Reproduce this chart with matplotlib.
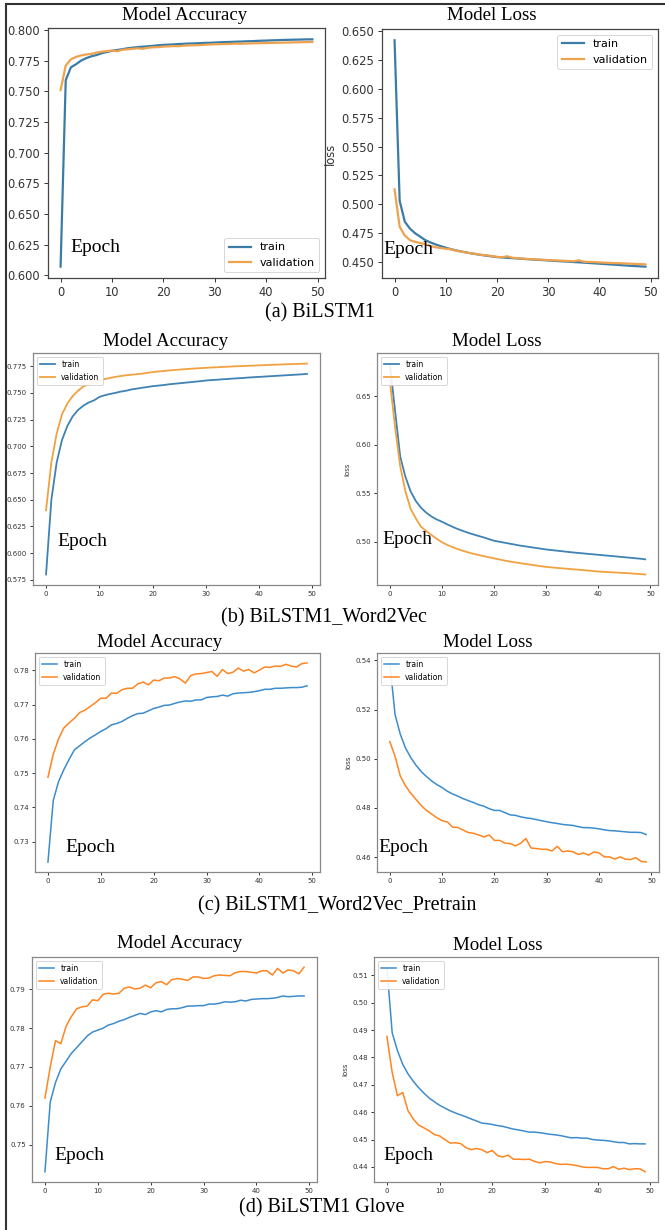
import matplotlib
matplotlib.use("Agg")
import matplotlib.pyplot as plt
from matplotlib.ticker import MultipleLocator, ScalarFormatter
from matplotlib.lines import Line2D
import numpy as np

W, H = 665, 1230
SERIF = ["Liberation Serif", "DejaVu Serif"]

epochs = list(range(50))

# (a) BiLSTM1
acc_a_train = [0.607, 0.759, 0.7695, 0.772, 0.775, 0.777, 0.7785, 0.7795, 0.781, 0.782,
               0.783, 0.7836, 0.7843, 0.785, 0.7855, 0.786, 0.7863, 0.7867, 0.787, 0.7875,
               0.7878, 0.788, 0.7882, 0.7885, 0.7887, 0.7889, 0.789, 0.7892, 0.7894, 0.7895,
               0.7897, 0.7899, 0.7901, 0.7902, 0.7904, 0.7905, 0.7907, 0.7908, 0.791, 0.7912,
               0.7913, 0.7915, 0.7916, 0.7918, 0.7919, 0.792, 0.7921, 0.7922, 0.7923, 0.7923]
acc_a_val = [0.751, 0.771, 0.776, 0.778, 0.7792, 0.780, 0.7805, 0.7815, 0.7822, 0.7827,
             0.7832, 0.7826, 0.7838, 0.7842, 0.7846, 0.785, 0.7846, 0.7855, 0.7858, 0.786,
             0.7864, 0.7866, 0.7868, 0.7867, 0.7872, 0.7874, 0.7875, 0.7876, 0.7879, 0.7881,
             0.7883, 0.7884, 0.7885, 0.7886, 0.7888, 0.7887, 0.7889, 0.789, 0.7891, 0.7892,
             0.7893, 0.7894, 0.7895, 0.7896, 0.7897, 0.7898, 0.7899, 0.79, 0.7901, 0.7902]
loss_a_train = [0.642, 0.503, 0.485, 0.479, 0.475, 0.472, 0.469, 0.467, 0.4653, 0.4638,
                0.4624, 0.4612, 0.4601, 0.4592, 0.4583, 0.4575, 0.4568, 0.4561, 0.4555, 0.4549,
                0.4543, 0.454, 0.4537, 0.4534, 0.4531, 0.4528, 0.4525, 0.4522, 0.452, 0.4517,
                0.4514, 0.4511, 0.4508, 0.4506, 0.4503, 0.45, 0.4498, 0.4495, 0.4492, 0.4489,
                0.4486, 0.4483, 0.448, 0.4477, 0.4474, 0.4471, 0.4468, 0.4465, 0.4463, 0.446]
loss_a_val = [0.513, 0.4805, 0.473, 0.469, 0.4675, 0.4665, 0.4655, 0.464, 0.4628, 0.4622,
              0.4615, 0.461, 0.4598, 0.459, 0.4582, 0.4576, 0.457, 0.4562, 0.4558, 0.4552,
              0.4545, 0.4542, 0.455, 0.4538, 0.4533, 0.453, 0.4527, 0.4525, 0.4522, 0.452,
              0.4517, 0.4515, 0.4513, 0.4511, 0.4509, 0.4507, 0.4515, 0.4503, 0.4501, 0.45,
              0.4497, 0.4495, 0.4493, 0.4491, 0.449, 0.4488, 0.4486, 0.4484, 0.4482, 0.448]

# (b) BiLSTM1_Word2Vec
acc_b_train = [0.580, 0.650, 0.685, 0.706, 0.719, 0.728, 0.734, 0.738, 0.741, 0.743,
               0.7462, 0.7478, 0.749, 0.750, 0.7512, 0.752, 0.7532, 0.754, 0.7548, 0.7555,
               0.7563, 0.7568, 0.7573, 0.758, 0.7585, 0.759, 0.7595, 0.760, 0.7605, 0.761,
               0.7616, 0.762, 0.7623, 0.7627, 0.763, 0.7634, 0.7637, 0.764, 0.7644, 0.7647,
               0.765, 0.7653, 0.7656, 0.7659, 0.7662, 0.7665, 0.7668, 0.7671, 0.7674, 0.7678]
acc_b_val = [0.640, 0.685, 0.712, 0.730, 0.740, 0.747, 0.752, 0.756, 0.758, 0.760,
             0.7615, 0.763, 0.764, 0.765, 0.7658, 0.7665, 0.767, 0.7675, 0.768, 0.7688,
             0.7695, 0.770, 0.7705, 0.771, 0.7714, 0.7718, 0.7722, 0.7726, 0.7729, 0.7732,
             0.7735, 0.7738, 0.774, 0.7743, 0.7745, 0.7748, 0.775, 0.7752, 0.7754, 0.7756,
             0.7758, 0.776, 0.7762, 0.7764, 0.7766, 0.7768, 0.777, 0.7771, 0.7773, 0.7775]
loss_b_train = [0.684, 0.636, 0.588, 0.567, 0.552, 0.542, 0.535, 0.530, 0.526, 0.523,
                0.5207, 0.518, 0.5155, 0.5132, 0.5112, 0.5093, 0.5076, 0.506, 0.5045, 0.5027,
                0.501, 0.500, 0.499, 0.498, 0.497, 0.496, 0.4952, 0.4944, 0.4936, 0.4928,
                0.492, 0.4914, 0.4908, 0.4902, 0.4896, 0.489, 0.4885, 0.488, 0.4875, 0.487,
                0.4865, 0.486, 0.4855, 0.485, 0.4845, 0.484, 0.4835, 0.483, 0.4825, 0.4818]
loss_b_val = [0.667, 0.619, 0.578, 0.552, 0.534, 0.524, 0.5155, 0.511, 0.507, 0.503,
              0.4995, 0.4968, 0.4945, 0.4925, 0.4907, 0.489, 0.4876, 0.4863, 0.4851, 0.484,
              0.4828, 0.4817, 0.4806, 0.4796, 0.4787, 0.4779, 0.4771, 0.4763, 0.4755, 0.4747,
              0.474, 0.4735, 0.473, 0.4725, 0.4721, 0.4716, 0.4712, 0.4707, 0.4703, 0.4697,
              0.4692, 0.4689, 0.4686, 0.4683, 0.468, 0.4677, 0.4674, 0.467, 0.4666, 0.4662]

# (c) BiLSTM1_Word2Vec_Pretrain
acc_c_train = [0.724, 0.742, 0.7475, 0.751, 0.754, 0.7568, 0.758, 0.7592, 0.7603, 0.7612,
               0.7622, 0.763, 0.7641, 0.7645, 0.7651, 0.766, 0.7668, 0.7674, 0.7675, 0.7682,
               0.7689, 0.7693, 0.7698, 0.7699, 0.7704, 0.7708, 0.7711, 0.771, 0.7714, 0.7714,
               0.7721, 0.7723, 0.7724, 0.7728, 0.7725, 0.7732, 0.7734, 0.7735, 0.7736, 0.7738,
               0.7741, 0.7745, 0.7745, 0.7748, 0.7748, 0.7749, 0.775, 0.775, 0.7751, 0.7755]
acc_c_val = [0.7488, 0.7555, 0.760, 0.7632, 0.7647, 0.766, 0.7677, 0.7684, 0.7695, 0.7706,
             0.7719, 0.7719, 0.7734, 0.7733, 0.7744, 0.7748, 0.7748, 0.7761, 0.7766, 0.7758,
             0.7772, 0.777, 0.7778, 0.7778, 0.7782, 0.7775, 0.7763, 0.7785, 0.779, 0.7791,
             0.7794, 0.7797, 0.7783, 0.7803, 0.7791, 0.7795, 0.7807, 0.7798, 0.7803, 0.7793,
             0.7801, 0.781, 0.7809, 0.7813, 0.7812, 0.7818, 0.7813, 0.781, 0.782, 0.7822]
loss_c_train = [0.539, 0.518, 0.510, 0.5044, 0.5005, 0.4974, 0.4948, 0.4928, 0.491, 0.4895,
                0.4883, 0.4868, 0.4857, 0.4848, 0.4838, 0.483, 0.4822, 0.4813, 0.4807, 0.4797,
                0.479, 0.479, 0.4781, 0.4772, 0.477, 0.4764, 0.476, 0.4757, 0.4753, 0.4748,
                0.4744, 0.474, 0.4737, 0.4733, 0.4731, 0.4729, 0.4724, 0.472, 0.472, 0.4718,
                0.4715, 0.4711, 0.4708, 0.4707, 0.4705, 0.4703, 0.4701, 0.4701, 0.47, 0.4692]
loss_c_val = [0.507, 0.501, 0.493, 0.489, 0.486, 0.4835, 0.481, 0.479, 0.4775, 0.476,
              0.4748, 0.4743, 0.4722, 0.4721, 0.471, 0.470, 0.4697, 0.469, 0.4682, 0.469,
              0.4668, 0.4668, 0.4657, 0.4655, 0.4646, 0.4656, 0.4676, 0.4637, 0.4635, 0.4632,
              0.4632, 0.4625, 0.4644, 0.4622, 0.4625, 0.4622, 0.4611, 0.4617, 0.4608, 0.4621,
              0.4617, 0.4601, 0.4601, 0.4592, 0.4601, 0.4592, 0.459, 0.4598, 0.4583, 0.458]

# (d) BiLSTM1 Glove
acc_d_train = [0.743, 0.761, 0.766, 0.7695, 0.7715, 0.7735, 0.775, 0.7765, 0.778, 0.779,
               0.7795, 0.780, 0.7808, 0.7812, 0.7818, 0.7822, 0.7828, 0.7833, 0.7838, 0.7835,
               0.7842, 0.7845, 0.7842, 0.7848, 0.785, 0.785, 0.7853, 0.7857, 0.7857, 0.7858,
               0.7858, 0.7862, 0.7862, 0.7864, 0.7868, 0.7867, 0.7868, 0.7872, 0.787, 0.7874,
               0.7875, 0.7876, 0.7876, 0.7877, 0.7879, 0.7883, 0.7881, 0.7882, 0.7883, 0.7883]
acc_d_val = [0.762, 0.770, 0.7768, 0.776, 0.7805, 0.783, 0.785, 0.7855, 0.7857, 0.7873,
             0.7871, 0.7887, 0.789, 0.7888, 0.789, 0.7903, 0.7906, 0.7901, 0.7903, 0.7911,
             0.7904, 0.7917, 0.792, 0.7912, 0.7925, 0.7928, 0.7926, 0.7923, 0.7932, 0.7932,
             0.7928, 0.7929, 0.7935, 0.7937, 0.7936, 0.7935, 0.7943, 0.7946, 0.7946, 0.7944,
             0.7942, 0.7948, 0.7948, 0.7937, 0.7954, 0.7942, 0.795, 0.7948, 0.794, 0.7957]
loss_d_train = [0.513, 0.489, 0.4825, 0.4775, 0.474, 0.4713, 0.469, 0.467, 0.4652, 0.4638,
                0.4625, 0.4615, 0.4605, 0.4597, 0.459, 0.4583, 0.4575, 0.4568, 0.456, 0.4558,
                0.4555, 0.4551, 0.4548, 0.4543, 0.4538, 0.4535, 0.4531, 0.4527, 0.4527, 0.4525,
                0.4522, 0.4519, 0.4517, 0.4514, 0.451, 0.4506, 0.4507, 0.4505, 0.4505, 0.45,
                0.4498, 0.4497, 0.4495, 0.4492, 0.4489, 0.4489, 0.4484, 0.4485, 0.4484, 0.4484]
loss_d_val = [0.4877, 0.4745, 0.466, 0.4672, 0.4605, 0.4575, 0.4553, 0.4543, 0.4532, 0.4518,
              0.4513, 0.450, 0.4487, 0.4488, 0.4485, 0.447, 0.4463, 0.4467, 0.4463, 0.4452,
              0.446, 0.4441, 0.4436, 0.4443, 0.4428, 0.4428, 0.4427, 0.4428, 0.442, 0.4415,
              0.4419, 0.4418, 0.4412, 0.4409, 0.441, 0.4408, 0.4405, 0.44, 0.4398, 0.4398,
              0.4398, 0.4393, 0.4393, 0.4401, 0.4391, 0.4395, 0.439, 0.4393, 0.4393, 0.4382]

captions = ["(a) BiLSTM1", "(b) BiLSTM1_Word2Vec",
            "(c) BiLSTM1_Word2Vec_Pretrain", "(d) BiLSTM1 Glove"]


def fx(x):
    return x / W


def fy(y):
    return 1 - y / H


def rect(l, r, t, b):
    return [fx(l), fy(b), (r - l) / W, (b - t) / H]


def draw(ax, train, val, step, style, loc, ylabel=None):
    ax.plot(epochs, train, color=style["c1"], lw=style["lw"], label="train")
    ax.plot(epochs, val, color=style["c2"], lw=style["lw"], label="validation")
    ax.set_xticks([0, 10, 20, 30, 40, 50])
    ax.yaxis.set_major_locator(MultipleLocator(step))
    fmt = ScalarFormatter(useOffset=False)
    ax.yaxis.set_major_formatter(fmt)
    ax.tick_params(labelsize=style["fs"], colors="#333333", length=style["tl"],
                   width=0.7, pad=2.5)
    for s in ax.spines.values():
        s.set_color(style["spine"])
        s.set_linewidth(0.9)
    if ylabel:
        ax.set_ylabel(ylabel, fontsize=style["fs"], color="#333333", labelpad=3)
    leg = ax.legend(loc=loc, fontsize=style["lfs"], framealpha=0.9)
    leg.get_frame().set_linewidth(0.6)


fig = plt.figure(figsize=(W / 100, H / 100), dpi=100, facecolor="white")

style_a = dict(c1="#3a7ca5", c2="#eea24e", lw=1.6, fs=8.3, lfs=8.0, tl=3.0,
               spine="#444444")
style_b = dict(c1="#3f82b4", c2="#f0a240", lw=1.3, fs=5.0, lfs=5.5, tl=2.0,
               spine="#888888")
style_c = dict(c1="#3d8ccc", c2="#ff8520", lw=1.1, fs=5.0, lfs=5.5, tl=2.0,
               spine="#888888")

rows = [
    # (acc rect, loss rect, acc data, loss data, steps, style, legend locs)
    (rect(48, 325, 28, 278), rect(382, 658, 29, 278),
     (acc_a_train, acc_a_val), (loss_a_train, loss_a_val),
     (0.025, 0.025), style_a, ("lower right", "upper right")),
    (rect(33, 320, 353, 585), rect(377, 658, 353, 585),
     (acc_b_train, acc_b_val), (loss_b_train, loss_b_val),
     (0.025, 0.05), style_b, ("upper left", "upper left")),
    (rect(35, 320, 653, 872), rect(377, 659, 653, 872),
     (acc_c_train, acc_c_val), (loss_c_train, loss_c_val),
     (0.01, 0.02), style_c, ("upper left", "upper left")),
    (rect(32, 317, 957, 1182), rect(374, 658, 957, 1182),
     (acc_d_train, acc_d_val), (loss_d_train, loss_d_val),
     (0.01, 0.01), style_c, ("upper left", "upper left")),
]

for r_acc, r_loss, acc, loss, steps, st, locs in rows:
    ax1 = fig.add_axes(r_acc)
    draw(ax1, acc[0], acc[1], steps[0], st, locs[0])
    ax2 = fig.add_axes(r_loss)
    draw(ax2, loss[0], loss[1], steps[1], st, locs[1], ylabel="loss")

# panel titles
titles_acc = [(185, 15), (166, 342), (160, 643), (180, 943)]
titles_loss = [(492, 15), (497, 342), (488, 643), (498, 945)]
for (x, y) in titles_acc:
    fig.text(fx(x), fy(y), "Model Accuracy", fontsize=13.6, family=SERIF,
             ha="center", va="center")
for (x, y) in titles_loss:
    fig.text(fx(x), fy(y), "Model Loss", fontsize=13.6, family=SERIF,
             ha="center", va="center")

# "Epoch" annotations placed inside the plots
epoch_pos = [(70, 247), (383, 250), (57, 541), (382, 540),
             (65, 847), (378, 847), (54, 1155), (383, 1155)]
for (x, y) in epoch_pos:
    fig.text(fx(x), fy(y), "Epoch", fontsize=14, family=SERIF,
             ha="left", va="center")

# captions
cap_pos = [(320, 313), (324, 618), (337, 906), (322, 1208)]
for cap, (x, y) in zip(captions, cap_pos):
    fig.text(fx(x), fy(y), cap, fontsize=14.5, family=SERIF,
             ha="center", va="center")

# outer frame (left and top)
fig.add_artist(Line2D([fx(6), fx(6)], [0, fy(4)], color="#333333", lw=1.5))
fig.add_artist(Line2D([fx(6), 1], [fy(4), fy(4)], color="#333333", lw=1.5))

fig.savefig("out.png", dpi=100, facecolor="white")
